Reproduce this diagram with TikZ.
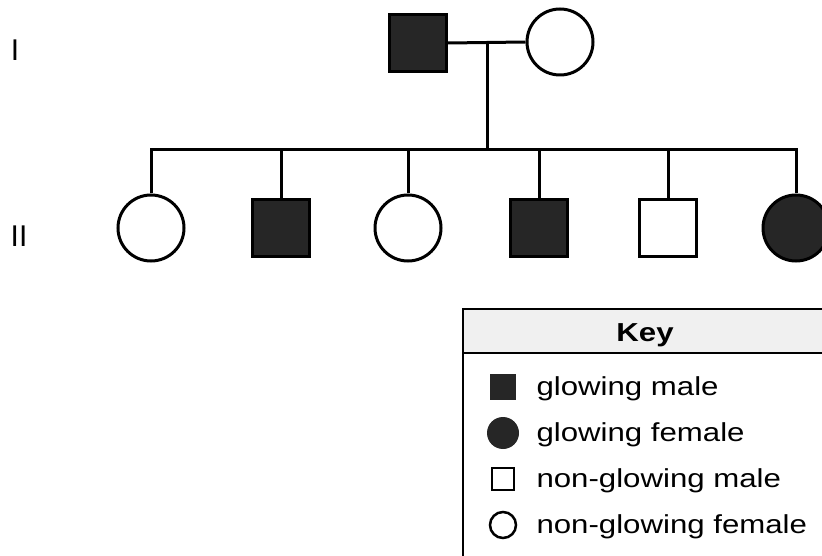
\documentclass[tikz,border=0pt]{standalone}
\usepackage{fontspec}
\setmainfont{Liberation Sans}
\newfontfamily\keyfont[FakeStretch=1.2]{Liberation Sans}
\usetikzlibrary{positioning}
\begin{document}
\begin{tikzpicture}[x=1pt, y=-1pt, line width=3pt,
	male/.style={rectangle, draw, minimum size=57pt, inner sep=0pt},
	female/.style={circle, draw, minimum size=66pt, inner sep=0pt},
	gmale/.style={male, fill=black!85}, gfemale/.style={female, fill=black!85},
	gen/.style={font=\fontsize{30}{36}\selectfont, inner sep=0pt},
	lbl/.style={font=\keyfont\fontsize{26}{30}\selectfont, anchor=base west, inner sep=0pt},
	kgmale/.style={rectangle, fill=black!85, minimum size=26pt, inner sep=0pt},
	kgfemale/.style={circle, fill=black!85, minimum size=32pt, inner sep=0pt},
	kmale/.style={rectangle, draw, line width=2.5pt, minimum size=22pt, inner sep=0pt},
	kfemale/.style={circle, draw, line width=2.5pt, minimum size=26pt, inner sep=0pt}]
	\useasboundingbox (0,0) rectangle (822,556);
	\clip (0,0) rectangle (822,556);
	% generations
	\node[gen] (genI) at (15,50) {I}; \node[gen] (genII) at (19,236) {II};
	\node[gmale] (F) at (418,43) {}; \node[female] (M) at (560,42) {};
	\coordinate (sib) at (487,150);
	\foreach \x/\s [count=\i] in {151/female, 281/gmale, 408/female, 539/gmale, 668/male, 796/gfemale}
		\node[\s] (c\i) at (\x,228) {};

	\draw (F.east) -- (M.west); \draw (F.east -| sib) -- (sib);
	\draw (c1.north) |- (sib) -| (c6.north);
	\foreach \i in {2,...,5} \draw (c\i.north |- sib) -- (c\i.north);

	% key
	\draw[line width=2pt, fill=gray!12] (463,309) rectangle (830,353);
	\draw[line width=2pt] (463,353) rectangle (830,560);
	\node[font=\keyfont\bfseries\fontsize{26}{30}\selectfont, anchor=base, inner sep=0pt] (keyhd) at (645,341) {Key};
	\foreach \s/\t [count=\i] in {kgmale/glowing male, kgfemale/glowing female, kmale/non-glowing male, kfemale/non-glowing female} {
		\node[\s] (k\i) at (503,341+46*\i) {};
		\node[lbl] (t\i) at (535,349+46*\i) {\t};
	}
\end{tikzpicture}
\end{document}
